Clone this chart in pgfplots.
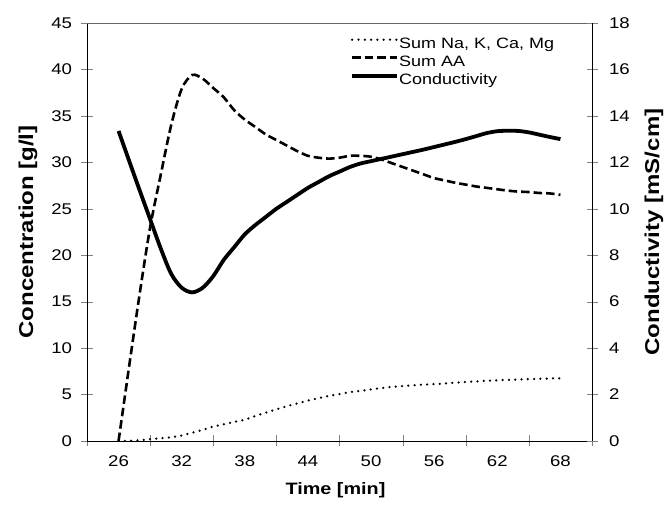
\documentclass[border=0pt]{standalone}
\usepackage{pgfplots}
\pgfplotsset{compat=1.18}
\usepackage{pgfplotstable}
\usepackage{fontspec}
\setmainfont{Liberation Sans}[FakeStretch=1.2]

\pgfplotstableread{
t c
26 0
27 0.02
28 0.08
29 0.2
30 0.3
31 0.4
32 0.6
33 0.9
34 1.2
35 1.55
36 1.8
37 2.05
38 2.3
39 2.7
40 3.05
41 3.4
42 3.75
43 4.05
44 4.35
45 4.6
46 4.85
47 5.05
48 5.25
49 5.4
50 5.55
51 5.7
52 5.82
53 5.92
54 6.0
55 6.07
56 6.12
57 6.2
58 6.28
59 6.35
60 6.42
61 6.48
62 6.53
63 6.58
64 6.62
65 6.66
66 6.7
67 6.73
68 6.75
}\minerals

\pgfplotstableread{
t c
26 0
27 8.0
28 15.8
29 23.0
30 28.6
31 34.0
32 37.9
33 39.4
34 39.0
35 38.0
36 37.0
37 35.6
38 34.6
39 33.8
40 33.0
41 32.4
42 31.8
43 31.2
44 30.7
45 30.5
46 30.4
47 30.5
48 30.7
49 30.7
50 30.6
51 30.3
52 29.9
53 29.5
54 29.1
55 28.7
56 28.3
57 28.05
58 27.8
59 27.6
60 27.4
61 27.25
62 27.1
63 26.95
64 26.85
65 26.8
66 26.7
67 26.65
68 26.5
}\aminoacids

\pgfplotstableread{
t k
26 13.35
27 12.07
28 10.8
29 9.55
30 8.3
31 7.2
32 6.6
33 6.4
34 6.6
35 7.1
36 7.8
37 8.35
38 8.9
39 9.3
40 9.65
41 10.0
42 10.3
43 10.6
44 10.9
45 11.15
46 11.4
47 11.6
48 11.8
49 11.95
50 12.05
51 12.15
52 12.25
53 12.35
54 12.45
55 12.55
56 12.66
57 12.77
58 12.88
59 13.0
60 13.13
61 13.26
62 13.34
63 13.36
64 13.35
65 13.29
66 13.19
67 13.09
68 13.0
}\conductivity

\tikzset{
  dotstyle/.style={black, line width=2.5pt, line cap=round, dash pattern=on 0pt off 6.3pt},
  dashstyle/.style={black, line width=2.6pt, dash pattern=on 8.5pt off 4pt},
  solidstyle/.style={black, line width=3.8pt},
}

\begin{document}
\begin{tikzpicture}
\pgfplotsset{
  common/.style={
    scale only axis,
    width=505pt, height=418pt,
    xmin=23, xmax=71,
    tick align=center,
    major tick length=11pt,
    axis line style={-},
    /pgf/number format/assume math mode=true,
    tick label style={font=\fontsize{15.5}{18}\selectfont},
    ylabel style={font=\bfseries\fontsize{20}{24}\selectfont},
    xlabel style={font=\bfseries\fontsize{16.5}{20}\selectfont},
  }
}
\begin{axis}[common,
  name=main,
  axis x line*=bottom,
  axis y line*=left,
  ymin=0, ymax=45,
  ytick={0,5,...,45},
  xtick={23,29,...,71},
  xticklabels={},
  extra x ticks={26,32,...,68},
  extra x tick style={major tick length=0pt, tick label style={yshift=-11pt}},
  yticklabel style={xshift=-6pt},
  xlabel={Time [min]},
  ylabel={Concentration [g/l]},
  xlabel style={at={(axis description cs:0.5,0)}, anchor=center, yshift=-49pt, xshift=-4pt},
  ylabel style={at={(axis description cs:0,0.5)}, anchor=center, yshift=59pt},
]
\addplot[dotstyle, smooth] table[x=t, y=c] {\minerals};
\addplot[dashstyle, smooth] table[x=t, y=c] {\aminoacids};
\draw[gray!80!black, line width=0.6pt] (rel axis cs:0,1) -- (rel axis cs:1,1);
\end{axis}
\begin{axis}[common,
  axis x line=none,
  axis y line*=right,
  ymin=0, ymax=18,
  ytick={0,2,...,18},
  yticklabel style={xshift=8pt},
  ylabel={Conductivity [mS/cm]},
  ylabel style={at={(axis description cs:1,0.5)}, anchor=center, yshift=-62pt},
  legend cell align=left,
  legend style={draw=none, fill=none, at={(axis description cs:0.521,0.970)}, anchor=north west,
    font=\fontsize{15}{18}\selectfont, inner sep=0pt, row sep=0pt,
    nodes={inner sep=0pt, text height=12.5pt, text depth=5.5pt}},
  legend image code/.code={\draw[#1] (0pt,5pt) -- (45pt,5pt);},
]
\addlegendimage{dotstyle}
\addlegendentry{Sum Na, K, Ca, Mg}
\addlegendimage{dashstyle}
\addlegendentry{Sum AA}
\addplot[solidstyle, smooth] table[x=t, y=k] {\conductivity};
\addlegendentry{Conductivity}
\end{axis}
\pgfresetboundingbox
\path[use as bounding box] ([shift={(-87pt,-71pt)}]main.south west) rectangle ([shift={(73pt,23pt)}]main.north east);
\end{tikzpicture}
\end{document}
